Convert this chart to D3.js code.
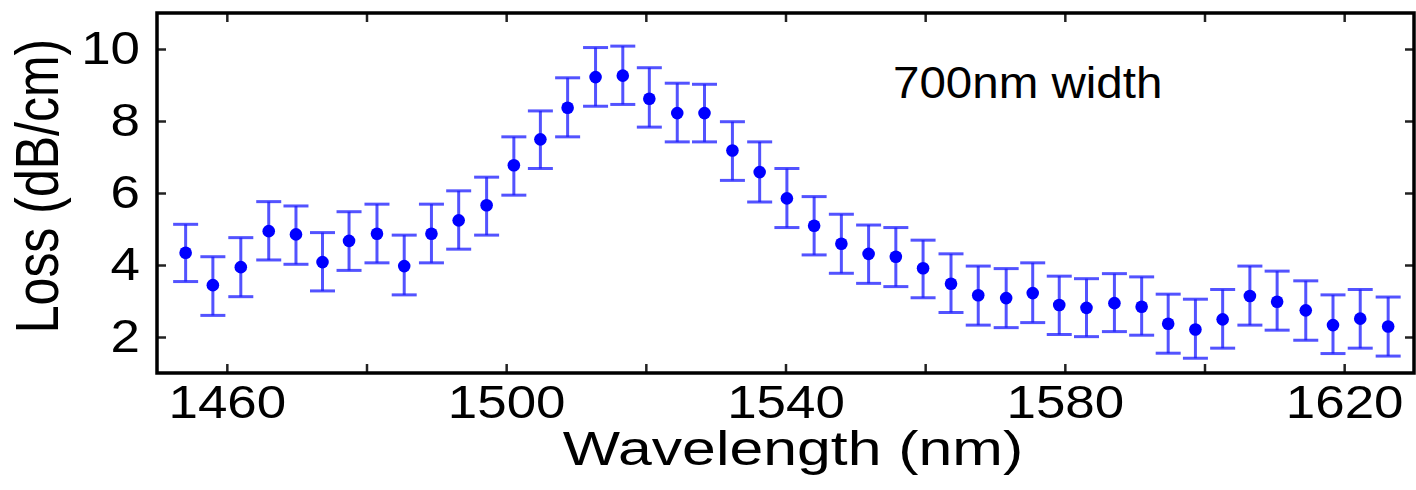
<!DOCTYPE html>
<html lang="en">
<head>
    <meta charset="UTF-8">
    <title>Loss vs Wavelength</title>
    <script src="https://d3js.org/d3.v7.min.js"></script>
    <style>
        body {
            margin: 0;
            background: #fff;
            font-family: "Liberation Sans", Arial, sans-serif;
        }
        svg text {
            fill: #000;
        }
    </style>
</head>
<body>
<svg id="chart" width="1416" height="490"></svg>

<script>
    // values
    const wavelength = [1454.1, 1458.0, 1462.0, 1466.0, 1469.9, 1473.7, 1477.5, 1481.5, 1485.4, 1489.3,
        1493.2, 1497.2, 1501.1, 1504.9, 1508.8, 1512.8, 1516.7, 1520.5, 1524.5, 1528.4,
        1532.4, 1536.3, 1540.2, 1544.1, 1548.0, 1551.9, 1555.8, 1559.7, 1563.7, 1567.6,
        1571.6, 1575.4, 1579.2, 1583.1, 1587.1, 1591.0, 1594.8, 1598.7, 1602.6, 1606.5,
        1610.4, 1614.5, 1618.4, 1622.3, 1626.3];
    const loss = [4.34, 3.44, 3.94, 4.94, 4.85, 4.08, 4.67, 4.87, 3.97, 4.87,
        5.24, 5.66, 6.77, 7.49, 8.37, 9.22, 9.26, 8.62, 8.22, 8.22,
        7.18, 6.58, 5.85, 5.09, 4.59, 4.31, 4.23, 3.91, 3.48, 3.16,
        3.08, 3.22, 2.89, 2.81, 2.94, 2.84, 2.37, 2.21, 2.49, 3.14,
        2.98, 2.74, 2.33, 2.51, 2.29];
    const errHigh = [5.13, 4.23, 4.76, 5.76, 5.64, 4.90, 5.48, 5.69, 4.83, 5.69,
        6.06, 6.44, 7.56, 8.28, 9.20, 10.04, 10.08, 9.48, 9.05, 9.02,
        7.98, 7.42, 6.68, 5.90, 5.41, 5.11, 5.04, 4.69, 4.31, 3.97,
        3.90, 4.06, 3.69, 3.62, 3.76, 3.67, 3.19, 3.05, 3.32, 3.97,
        3.83, 3.56, 3.17, 3.32, 3.11];
    const errLow = [3.54, 2.60, 3.12, 4.14, 4.02, 3.28, 3.85, 4.06, 3.17, 4.06,
        4.44, 4.83, 5.94, 6.68, 7.56, 8.41, 8.46, 7.83, 7.42, 7.42,
        6.35, 5.75, 5.04, 4.28, 3.77, 3.49, 3.40, 3.09, 2.68, 2.33,
        2.26, 2.40, 2.07, 2.01, 2.15, 2.05, 1.55, 1.41, 1.69, 2.33,
        2.19, 1.91, 1.54, 1.69, 1.47];

    const xTicks = [1460, 1480, 1500, 1520, 1540, 1560, 1580, 1600, 1620];
    const xTickLabels = [1460, 1500, 1540, 1580, 1620];
    const yTicks = [2, 4, 6, 8, 10];

    const svg = d3.select("#chart");
    const plotL = 157, plotR = 1414, plotT = 13, plotB = 373;

    const x = d3.scaleLinear().domain([1450, 1630]).range([plotL, plotR]);
    const y = d3.scaleLinear().domain([1, 11]).range([plotB, plotT]);

    const points = wavelength.map((w, i) => ({w: w, v: loss[i], hi: errHigh[i], lo: errLow[i]}));

    // error bars
    const bars = svg.append("g")
        .attr("stroke", "#1a1aff")
        .attr("stroke-opacity", 0.75)
        .attr("stroke-width", 3);

    const bar = bars.selectAll("g")
        .data(points)
        .enter().append("g");

    bar.append("line")
        .attr("x1", d => x(d.w)).attr("x2", d => x(d.w))
        .attr("y1", d => y(d.hi)).attr("y2", d => y(d.lo));
    bar.append("line")
        .attr("x1", d => x(d.w) - 12.5).attr("x2", d => x(d.w) + 12.5)
        .attr("y1", d => y(d.hi)).attr("y2", d => y(d.hi));
    bar.append("line")
        .attr("x1", d => x(d.w) - 12.5).attr("x2", d => x(d.w) + 12.5)
        .attr("y1", d => y(d.lo)).attr("y2", d => y(d.lo));

    svg.append("g").selectAll("circle")
        .data(points)
        .enter().append("circle")
        .attr("cx", d => x(d.w))
        .attr("cy", d => y(d.v))
        .attr("r", 6.3)
        .attr("fill", "#0000ff");

    // axes, ticks pointing inward on all four sides
    function styleTicks(g) {
        g.select(".domain").remove();
        g.selectAll(".tick line").attr("stroke", "#222").attr("stroke-width", 2.5);
    }

    svg.append("g")
        .attr("transform", `translate(0,${plotB})`)
        .call(d3.axisBottom(x).tickValues(xTicks).tickSizeInner(-9).tickSizeOuter(0)
            .tickPadding(12.5)
            .tickFormat(d => xTickLabels.includes(d) ? d : ""))
        .call(styleTicks)
        .call(g => g.selectAll("text")
            .attr("font-family", "Liberation Sans, Arial, sans-serif")
            .attr("font-size", 46)
            .attr("fill", "#000")
            .attr("transform", "scale(1.15,1)"));

    svg.append("g")
        .attr("transform", `translate(${plotL},0)`)
        .call(d3.axisLeft(y).tickValues(yTicks).tickSizeInner(-9).tickSizeOuter(0)
            .tickPadding(17))
        .call(styleTicks)
        .call(g => g.selectAll("text")
            .attr("x", -17 / 1.15)
            .attr("font-family", "Liberation Sans, Arial, sans-serif")
            .attr("font-size", 46)
            .attr("fill", "#000")
            .attr("transform", "scale(1.15,1)"));

    svg.append("g")
        .attr("transform", `translate(0,${plotT})`)
        .call(d3.axisTop(x).tickValues(xTicks).tickSizeInner(-9).tickSizeOuter(0).tickFormat(""))
        .call(styleTicks);

    svg.append("g")
        .attr("transform", `translate(${plotR},0)`)
        .call(d3.axisRight(y).tickValues(yTicks).tickSizeInner(-9).tickSizeOuter(0).tickFormat(""))
        .call(styleTicks);

    // frame
    svg.append("rect")
        .attr("x", plotL).attr("y", plotT)
        .attr("width", plotR - plotL).attr("height", plotB - plotT)
        .attr("fill", "none")
        .attr("stroke", "#000")
        .attr("stroke-width", 3.5);

    // labels
    svg.append("text")
        .attr("transform", "translate(793,465) scale(1.24,1)")
        .attr("text-anchor", "middle")
        .attr("font-size", 49)
        .text("Wavelength (nm)");

    svg.append("text")
        .attr("transform", "translate(58,186) scale(1.24,1) rotate(-90)")
        .attr("text-anchor", "middle")
        .attr("font-size", 50)
        .text("Loss (dB/cm)");

    svg.append("text")
        .attr("transform", "translate(893,98) scale(1.08,1)")
        .attr("font-size", 44)
        .text("700nm width");
</script>
</body>
</html>
